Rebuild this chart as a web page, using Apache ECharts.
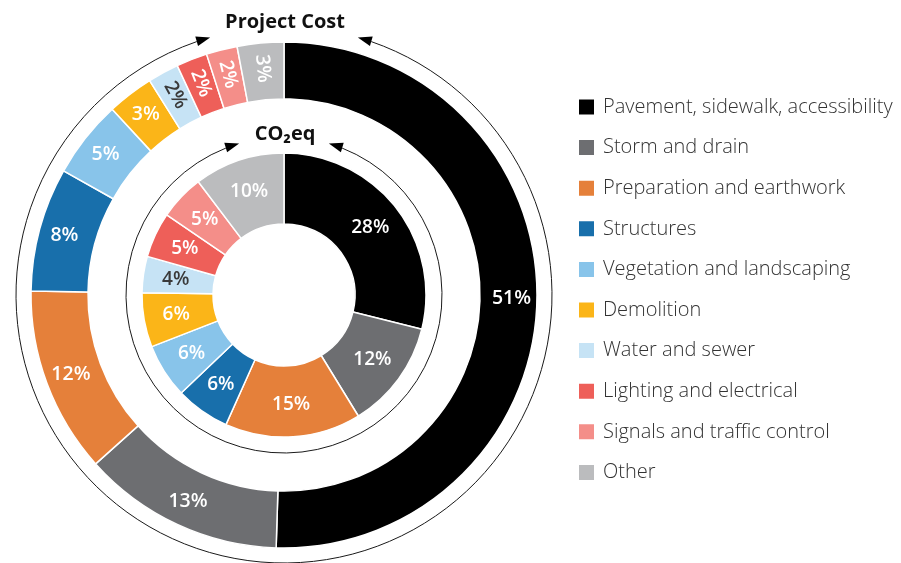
<!DOCTYPE html>
<html>
<head>
<meta charset="utf-8">
<script src="https://cdn.jsdelivr.net/npm/echarts@6/dist/echarts.min.js"></script>
<style>
  html, body { margin: 0; background: #fff; }
  #chart { width: 901px; height: 563px; }
</style>
</head>
<body>
<div id="chart"></div>
<script>
const categories = [
    'Pavement, sidewalk, accessibility',
    'Storm and drain',
    'Preparation and earthwork',
    'Structures',
    'Vegetation and landscaping',
    'Demolition',
    'Water and sewer',
    'Lighting and electrical',
    'Signals and traffic control',
    'Other'
];
const colors = ['#000000', '#6d6e71', '#e5803a', '#186fab', '#88c4ea', '#fbb518', '#c6e3f5', '#ee5f59', '#f48e89', '#bbbcbe'];
// percentages printed on the rings
const costPct = [51, 13, 12, 8, 5, 3, 2, 2, 2, 3];
const co2Pct = [28, 12, 15, 6, 6, 6, 4, 5, 5, 10];

const cx = 284, cy = 295;
const FONT = 'Open Sans';

// thin circle with a gap at the top and an arrowhead at each end
function ringArrows(r, gapDeg) {
    const g = gapDeg * Math.PI / 180;
    const top = -Math.PI / 2;
    const L = 14, W = 5;
    const back = L / r;
    const els = [{
        type: 'arc',
        shape: { cx: cx, cy: cy, r: r, startAngle: top + g + back, endAngle: top - g - back + 2 * Math.PI, clockwise: true },
        style: { stroke: '#1a1a1a', lineWidth: 1, fill: 'none' },
        silent: true
    }];
    [[top - g, 1], [top + g, -1]].forEach(([a, dir]) => {
        const px = cx + r * Math.cos(a), py = cy + r * Math.sin(a);
        const tx = -Math.sin(a) * dir, ty = Math.cos(a) * dir;
        const bx = px - tx * L, by = py - ty * L;
        els.push({
            type: 'polygon',
            shape: { points: [[px, py], [bx - ty * W, by + tx * W], [bx + ty * W, by - tx * W]] },
            style: { fill: '#000' },
            silent: true
        });
    });
    return els;
}

function ringData(values, rotated) {
    return categories.map((name, i) => {
        const label = {};
        if (i === 6) label.color = '#3a3a3a';
        if (rotated.indexOf(i) >= 0) label.rotate = 'radial';
        return { name: name, value: values[i], itemStyle: { color: colors[i] }, label: label };
    });
}

const baseLabel = { show: true, position: 'inside', formatter: '{c}%', color: '#fff', fontWeight: 600, fontFamily: FONT };

var myChart = echarts.init(document.getElementById('chart'), null, { renderer: 'canvas' });
var option = {
    animation: false,
    legend: {
        orient: 'vertical',
        left: 572,
        top: 92,
        itemWidth: 17,
        itemHeight: 17,
        itemGap: 20.6,
        icon: 'rect',
        selectedMode: false,
        textStyle: { fontSize: 20, fontWeight: 300, color: '#333', fontFamily: FONT, padding: [0, 0, 0, 3] },
        data: categories
    },
    graphic: [
        { type: 'text', x: cx + 1, y: 22, style: { text: 'Project Cost', font: 'bold 20px "Open Sans"', fill: '#111', align: 'center', verticalAlign: 'middle' } },
        { type: 'text', x: cx + 1, y: 134, style: { text: 'CO₂eq', font: 'bold 20px "Open Sans"', fill: '#111', align: 'center', verticalAlign: 'middle' } }
    ].concat(ringArrows(268, 16), ringArrows(158, 16.5)),
    series: [{
        type: 'pie',
        name: 'Project Cost',
        center: [cx, cy],
        radius: [196, 253],
        startAngle: 90,
        clockwise: true,
        avoidLabelOverlap: false,
        label: Object.assign({ fontSize: 19.5 }, baseLabel),
        labelLine: { show: false },
        itemStyle: { borderColor: '#fff', borderWidth: 1.5 },
        emphasis: { disabled: true },
        data: ringData(costPct, [6, 7, 8, 9])
    }, {
        type: 'pie',
        name: 'CO2eq',
        center: [cx, cy],
        radius: [71, 142],
        startAngle: 90,
        clockwise: true,
        avoidLabelOverlap: false,
        label: Object.assign({ fontSize: 19 }, baseLabel),
        labelLine: { show: false },
        itemStyle: { borderColor: '#fff', borderWidth: 1.5 },
        emphasis: { disabled: true },
        data: ringData(co2Pct, [])
    }]
};
myChart.setOption(option);
</script>
</body>
</html>
